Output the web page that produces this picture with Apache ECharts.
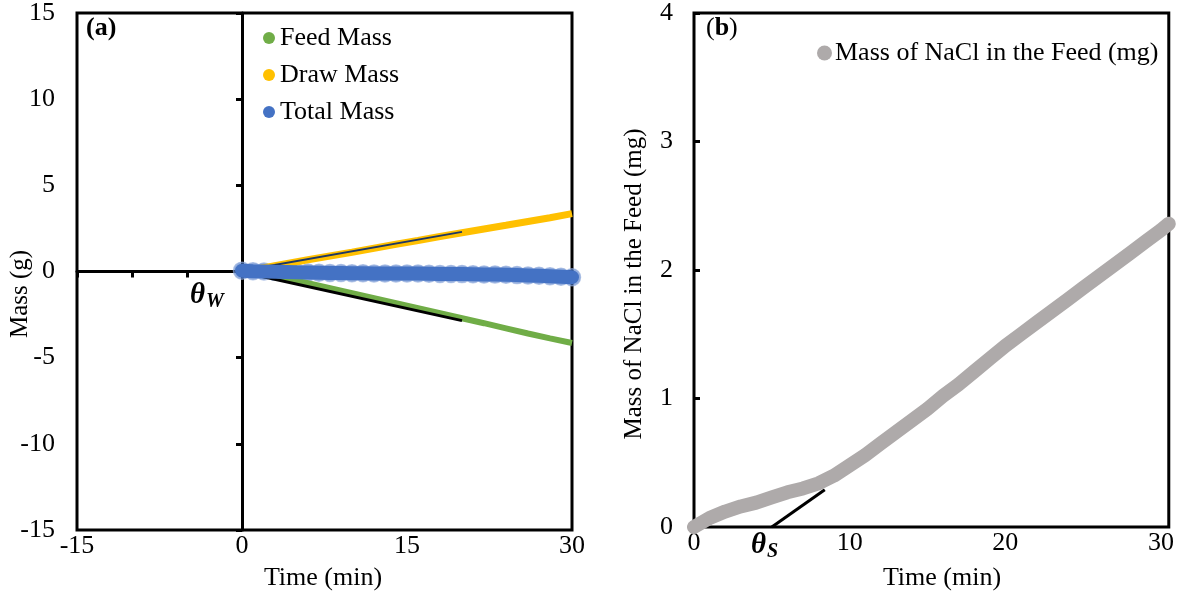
<!DOCTYPE html>
<html>
<head>
<meta charset="utf-8">
<script src="https://cdn.jsdelivr.net/npm/echarts@6/dist/echarts.min.js"></script>
<style>
  html, body { margin: 0; padding: 0; background: #fff; }
  #chart { width: 1177px; height: 596px; }
</style>
</head>
<body>
<div id="chart"></div>
<script>
// panel (a): feed / draw / total mass vs time
const massTime = [0, 2, 4, 6, 8, 10, 12, 14, 16, 18, 20, 22, 24, 26, 28, 30]
const feedMass = [0, -0.2, -0.42, -0.68, -0.97, -1.26, -1.55, -1.84, -2.13, -2.42, -2.71, -3.0, -3.3, -3.6, -3.88, -4.15]
const drawMass = [0, 0.22, 0.45, 0.68, 0.9, 1.12, 1.35, 1.58, 1.8, 2.03, 2.25, 2.47, 2.68, 2.9, 3.12, 3.36]
const totalTime = [0, 1, 2, 3, 4, 5, 6, 7, 8, 9, 10, 11, 12, 13, 14, 15, 16, 17, 18, 19, 20, 21, 22, 23, 24, 25, 26, 27, 28, 29, 30]
const totalMass = [0.05, 0.02, 0, -0.02, -0.03, -0.05, -0.06, -0.07, -0.08, -0.09, -0.1, -0.1, -0.11, -0.11, -0.12, -0.12,
  -0.12, -0.13, -0.14, -0.14, -0.15, -0.16, -0.17, -0.18, -0.19, -0.21, -0.23, -0.25, -0.27, -0.3, -0.33]
const fitTime = [0.5, 20]
const drawFit = [0.1, 2.3]
const feedFit = [-0.1, -2.85]

// panel (b): NaCl in the feed
const naclTime = [0, 1, 2, 3, 4, 5, 6, 7, 8, 9, 10, 11, 12, 13, 14, 15, 16, 17, 18, 19, 20, 21, 22, 23, 24, 25, 26, 27, 28, 29, 30, 30.5]
const naclMass = [0, 0.07, 0.12, 0.16, 0.19, 0.23, 0.27, 0.3, 0.34, 0.4, 0.48, 0.56, 0.65, 0.74, 0.83, 0.92,
  1.02, 1.11, 1.21, 1.31, 1.41, 1.5, 1.59, 1.68, 1.77, 1.86, 1.95, 2.04, 2.13, 2.22, 2.31, 2.36]
const tangentTime = [5.0, 8.4]
const tangentMass = [0, 0.29]

const FONT = "'Liberation Serif', 'Times New Roman', serif"
const pairs = (xs, ys) => xs.map((x, i) => [x, ys[i]])

const chart = echarts.init(document.getElementById('chart'))

const labelStyle = { color: '#000', fontFamily: FONT, fontSize: 26 }
const thetaRich = {
  t: { fontStyle: 'italic', fontWeight: 'bold', fontSize: 29, fontFamily: FONT },
  s: { fontStyle: 'italic', fontWeight: 'bold', fontSize: 20, fontFamily: FONT, padding: [12, 0, 0, 1] }
}

const option = {
  animation: false,
  backgroundColor: '#fff',
  grid: [
    { left: 77, top: 12, width: 495, height: 518, show: true, borderColor: '#000', borderWidth: 3 },
    { left: 694, top: 11, width: 476, height: 516, show: true, borderColor: '#000', borderWidth: 3 }
  ],
  xAxis: [
    {
      gridIndex: 0, type: 'value', min: -15, max: 30, interval: 15,
      axisLine: { show: false }, axisTick: { show: false }, splitLine: { show: false },
      axisLabel: { ...labelStyle, margin: 3 }
    },
    {
      gridIndex: 0, type: 'value', min: -15, max: 30, interval: 5,
      axisLine: { show: true, onZero: true, onZeroAxisIndex: 1, lineStyle: { color: '#000', width: 3 } },
      axisTick: { show: true, inside: true, length: 6, lineStyle: { color: '#000', width: 3 } },
      axisLabel: { show: false }, splitLine: { show: false }
    },
    {
      gridIndex: 1, type: 'value', min: 0, max: 30.5, interval: 10,
      axisLine: { show: false }, axisTick: { show: false }, splitLine: { show: false },
      axisLabel: { ...labelStyle, margin: 3, formatter: v => (v % 10 === 0 ? String(v) : '') }
    }
  ],
  yAxis: [
    {
      gridIndex: 0, type: 'value', min: -15, max: 15, interval: 5,
      axisLine: { show: false }, axisTick: { show: false }, splitLine: { show: false },
      axisLabel: { ...labelStyle, margin: 22 }
    },
    {
      gridIndex: 0, type: 'value', min: -15, max: 15, interval: 5,
      axisLine: { show: true, onZero: true, onZeroAxisIndex: 1, lineStyle: { color: '#000', width: 3 } },
      axisTick: { show: true, inside: true, length: 6, lineStyle: { color: '#000', width: 3 } },
      axisLabel: { show: false }, splitLine: { show: false }
    },
    {
      gridIndex: 1, type: 'value', min: 0, max: 4, interval: 1,
      axisLine: { show: false }, splitLine: { show: false },
      axisTick: { show: true, inside: true, length: 6, lineStyle: { color: '#000', width: 3 } },
      axisLabel: { ...labelStyle, margin: 21 }
    }
  ],
  legend: [
    {
      orient: 'vertical', left: 258, top: 20, itemGap: 11,
      icon: 'circle', itemWidth: 12, itemHeight: 12,
      textStyle: { color: '#000', fontFamily: FONT, fontSize: 26 },
      data: ['Feed Mass', 'Draw Mass', 'Total Mass']
    },
    {
      left: 812, top: 35, icon: 'circle', itemWidth: 15, itemHeight: 15, itemGap: 0,
      textStyle: { color: '#000', fontFamily: FONT, fontSize: 26, padding: [0, 0, 0, -2] },
      data: ['Mass of NaCl in the Feed (mg)']
    }
  ],
  series: [
    {
      name: 'Feed Mass', type: 'line', xAxisIndex: 0, yAxisIndex: 0,
      data: pairs(massTime, feedMass), showSymbol: false, clip: false,
      itemStyle: { color: '#70AD47' }, lineStyle: { color: '#70AD47', width: 6 }
    },
    {
      name: 'Draw Mass', type: 'line', xAxisIndex: 0, yAxisIndex: 0,
      data: pairs(massTime, drawMass), showSymbol: false, clip: false,
      itemStyle: { color: '#FFC000' }, lineStyle: { color: '#FFC000', width: 7 }
    },
    {
      name: 'drawFit', type: 'line', xAxisIndex: 0, yAxisIndex: 0,
      data: pairs(fitTime, drawFit), showSymbol: false,
      lineStyle: { color: '#1F3864', width: 2 }
    },
    {
      name: 'feedFit', type: 'line', xAxisIndex: 0, yAxisIndex: 0,
      data: pairs(fitTime, feedFit), showSymbol: false,
      lineStyle: { color: '#000', width: 3 }
    },
    {
      name: 'Total Mass', type: 'line', xAxisIndex: 0, yAxisIndex: 0,
      data: pairs(totalTime, totalMass), showSymbol: false, clip: false,
      itemStyle: { color: '#4472C4' }, lineStyle: { color: '#4472C4', width: 14, cap: 'round' }
    },
    {
      name: 'Total Mass', type: 'scatter', xAxisIndex: 0, yAxisIndex: 0,
      data: pairs(totalTime, totalMass), symbolSize: 17, clip: false,
      itemStyle: { color: 'rgba(68,114,196,0.7)', borderColor: 'rgba(143,170,220,0.85)', borderWidth: 1.5 }
    },
    {
      name: 'tangent', type: 'line', xAxisIndex: 2, yAxisIndex: 2,
      data: pairs(tangentTime, tangentMass), showSymbol: false,
      lineStyle: { color: '#000', width: 3 }
    },
    {
      name: 'Mass of NaCl in the Feed (mg)', type: 'line', xAxisIndex: 2, yAxisIndex: 2,
      data: pairs(naclTime, naclMass), showSymbol: false, clip: false,
      itemStyle: { color: '#AEAAAA' }, lineStyle: { color: '#AEAAAA', width: 14, cap: 'round', join: 'round' }
    }
  ],
  graphic: [
    {
      type: 'text', left: 86, top: 15,
      style: { text: '(a)', fill: '#000', font: 'bold 26px ' + FONT }
    },
    {
      type: 'text', left: 706, top: 15,
      style: {
        text: '({b|b})', fill: '#000', font: '26px ' + FONT,
        rich: { b: { fontWeight: 'bold', fontSize: 26, fontFamily: FONT } }
      }
    },
    {
      type: 'text', left: 190, top: 281,
      style: { text: '{t|θ}{s|W}', fill: '#000', rich: thetaRich }
    },
    {
      type: 'text', left: 751, top: 531,
      style: { text: '{t|θ}{s|S}', fill: '#000', rich: thetaRich }
    },
    {
      type: 'text', x: 20, y: 294, rotation: Math.PI / 2,
      style: { text: 'Mass (g)', fill: '#000', font: '25px ' + FONT, textAlign: 'center', textVerticalAlign: 'middle' }
    },
    {
      type: 'text', x: 634, y: 284, rotation: Math.PI / 2,
      style: { text: 'Mass of NaCl in the Feed (mg)', fill: '#000', font: '25px ' + FONT, textAlign: 'center', textVerticalAlign: 'middle' }
    },
    {
      type: 'text', x: 323, y: 578,
      style: { text: 'Time (min)', fill: '#000', font: '26px ' + FONT, textAlign: 'center', textVerticalAlign: 'middle' }
    },
    {
      type: 'text', x: 942, y: 578,
      style: { text: 'Time (min)', fill: '#000', font: '26px ' + FONT, textAlign: 'center', textVerticalAlign: 'middle' }
    }
  ]
}

chart.setOption(option)
window.addEventListener('resize', () => chart.resize())
</script>
</body>
</html>
